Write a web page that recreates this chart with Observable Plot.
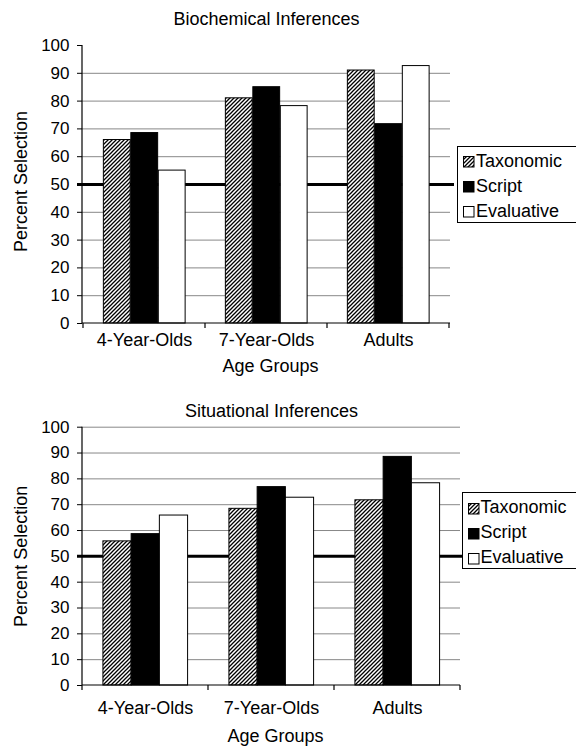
<!DOCTYPE html>
<html><head><meta charset="utf-8">
<script src="https://cdn.jsdelivr.net/npm/d3@7"></script>
<script src="https://cdn.jsdelivr.net/npm/@observablehq/plot@0.6"></script>
<style>
html,body{margin:0;padding:0;background:#fff;overflow:hidden;width:576px;height:753px}
#root{position:relative;width:576px;height:753px;font-family:"Liberation Sans",Arial,sans-serif}
.chart{position:absolute;left:0}
.legend{position:absolute;border:1px solid #000;background:#fff;width:140px;height:77px;box-sizing:border-box;font-size:18px;color:#000;padding-top:2px}
.legend .row{position:relative;height:25px;line-height:25px;padding-left:18px;white-space:nowrap}
.legend .row svg{position:absolute;left:5px;top:7.5px}
</style></head>
<body>
<svg width="0" height="0" style="position:absolute"><defs>
<pattern id="hatch" patternUnits="userSpaceOnUse" width="4" height="4">
<rect width="4" height="4" fill="#fff"/>
<path d="M-1,1 l2,-2 M0,4 l4,-4 M3,5 l2,-2" stroke="#000" stroke-width="1.3"/>
</pattern></defs></svg>
<div id="root"></div>
<script>
const groups = ["4-Year-Olds", "7-Year-Olds", "Adults"];
const seriesNames = ["Taxonomic", "Script", "Evaluative"];
const seriesFills = ["url(#hatch)", "#000", "#fff"];
const yTicks = [0, 10, 20, 30, 40, 50, 60, 70, 80, 90, 100];

const bioTaxonomic = [66, 81, 91];
const bioScript = [68.5, 85, 71.7];
const bioEvaluative = [55, 78.2, 92.6];

const sitTaxonomic = [55.8, 68.4, 71.7];
const sitScript = [58.6, 76.8, 88.5];
const sitEvaluative = [65.8, 72.7, 78.3];

function rowsFrom(lists) {
  const rows = [];
  seriesNames.forEach((s, i) => groups.forEach((g, j) => rows.push({group: g, series: s, value: lists[i][j]})));
  return rows;
}

function axisFrame(index, scales, values, dims) {
  const {width, height, marginLeft, marginRight, marginTop, marginBottom} = dims;
  const x = scales.x;
  const bottom = height - marginBottom;
  const bw = x && x.bandwidth ? x.bandwidth() : (width - marginLeft - marginRight) / groups.length;
  const xs = groups.map((g, i) => x ? x(g) : marginLeft + i * bw);
  xs.push(xs[xs.length - 1] + bw);
  const g = d3.create("svg:g").attr("stroke", "#000").attr("stroke-width", 1.2);
  g.append("line").attr("x1", marginLeft).attr("x2", marginLeft).attr("y1", marginTop).attr("y2", bottom);
  g.append("line").attr("x1", marginLeft).attr("x2", width - marginRight).attr("y1", bottom).attr("y2", bottom);
  for (const px of xs) g.append("line").attr("x1", px).attr("x2", px).attr("y1", bottom).attr("y2", bottom + 5);
  return g.node();
}

function makeChart(cfg) {
  const rows = rowsFrom(cfg.lists);
  const bw = (576 - cfg.ml - cfg.mr) / groups.length;
  const pad = 0.166, barFrac = 0.224;
  const bars = seriesNames.map((s, i) => Plot.barY(rows.filter(d => d.series === s), {
    x: "group", y: "value", fill: seriesFills[i], stroke: "#000", strokeWidth: 1,
    insetLeft: bw * (pad + i * barFrac),
    insetRight: bw * (1 - pad - (i + 1) * barFrac)
  }));
  return Plot.plot({
    width: 576, height: cfg.height,
    marginTop: cfg.mt, marginBottom: cfg.mb, marginLeft: cfg.ml, marginRight: cfg.mr,
    style: {fontFamily: '"Liberation Sans", Arial, sans-serif', fontSize: "17px", color: "#000", background: "transparent", overflow: "visible"},
    x: {domain: groups, padding: 0},
    y: {domain: [0, 100]},
    marks: [
      Plot.ruleY(cfg.grid, {stroke: "#888", strokeWidth: 1}),
      Plot.ruleY([50], {stroke: "#000", strokeWidth: 3, insetLeft: -5, insetRight: -4}),
      ...bars,
      axisFrame,
      Plot.axisY({ticks: yTicks, tickSize: 5, tickPadding: 8, fontSize: 17, label: null, stroke: "#000"}),
      Plot.axisX({tickSize: 0, tickPadding: cfg.xPad, fontSize: 18, label: null}),
      Plot.text([cfg.title], {frameAnchor: "top", dy: cfg.titleDy, fontSize: 18}),
      Plot.text(["Age Groups"], {frameAnchor: "bottom", dy: cfg.xLabelDy, dx: 4, fontSize: 18}),
      Plot.text(["Percent Selection"], {frameAnchor: "left", textAnchor: "middle", rotate: -90, dx: -61, dy: cfg.yLabelDy, fontSize: 18})
    ]
  });
}

function makeLegend(left, top) {
  const div = document.createElement("div");
  div.className = "legend";
  div.style.left = left + "px";
  div.style.top = top + "px";
  seriesNames.forEach((s, i) => {
    const row = document.createElement("div");
    row.className = "row";
    row.innerHTML = `<svg width="12" height="12"><rect x="0.5" y="0.5" width="10.5" height="10.5" fill="${seriesFills[i]}" stroke="#000" stroke-width="1"/></svg>${s}`;
    div.appendChild(row);
  });
  return div;
}

const root = document.getElementById("root");

const c1 = makeChart({
  lists: [bioTaxonomic, bioScript, bioEvaluative],
  title: "Biochemical Inferences",
  height: 376, mt: 45, mb: 53, ml: 82, mr: 126,
  grid: [10, 20, 30, 40, 60, 70, 80, 90],
  xPad: 10, titleDy: -33, xLabelDy: 48, yLabelDy: -3
});
const w1 = document.createElement("div"); w1.className = "chart"; w1.style.top = "0px";
w1.appendChild(c1); root.appendChild(w1);

const c2 = makeChart({
  lists: [sitTaxonomic, sitScript, sitEvaluative],
  title: "Situational Inferences",
  height: 377, mt: 50.7, mb: 68, ml: 82, mr: 116,
  grid: [10, 20, 30, 40, 60, 70, 80, 90, 100],
  xPad: 15.5, titleDy: -23, xLabelDy: 56, yLabelDy: 0
});
const w2 = document.createElement("div"); w2.className = "chart"; w2.style.top = "376px";
w2.appendChild(c2); root.appendChild(w2);

root.appendChild(makeLegend(457, 145.5));
root.appendChild(makeLegend(461.5, 492));
</script>
</body></html>
